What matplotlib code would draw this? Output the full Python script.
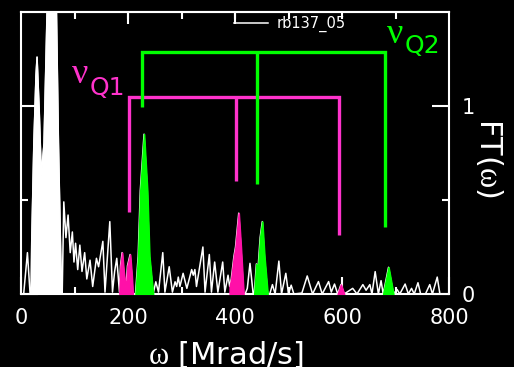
import numpy as np
import matplotlib
matplotlib.use("Agg")
import matplotlib.pyplot as plt
import matplotlib.transforms as mtransforms
from matplotlib.ticker import MultipleLocator

plt.rcParams['mathtext.fontset'] = 'custom'
plt.rcParams['mathtext.it'] = 'Liberation Serif'
plt.rcParams['mathtext.rm'] = 'Liberation Serif'
plt.rcParams['font.family'] = ['DejaVu Sans']

# ---------------- data ----------------
freq = [5, 12, 17, 19, 20, 24, 28, 30, 34, 38, 43, 49, 57, 66, 70, 75, 77,
        80, 84, 88, 92, 96, 99, 102, 106, 110, 114, 119, 123, 129, 134, 141, 145,
        153, 157, 166, 171, 175, 179, 184,
        186, 189, 192, 196, 199, 204, 207, 209,
        214, 219, 223, 230, 236, 240, 247,
        252, 257, 265, 269, 277, 283, 288, 291, 294, 297, 303, 310, 319, 322, 325,
        328, 340, 344, 352, 356, 362, 368, 377, 381, 387, 390,
        393, 398, 401, 407, 411, 416,
        419, 423, 428, 434,
        436, 440, 443, 447, 451, 455, 461,
        465, 470, 475, 482, 487, 495, 500, 505, 510, 525, 535, 545, 556, 563,
        575, 580, 586, 592,
        598, 604,
        620, 628, 639, 645, 652, 656, 662, 668, 673, 677,
        684, 687, 691, 696,
        703, 708, 718, 724, 730, 735, 742, 747, 756, 764, 769, 778, 783, 798]
amp = [0.0, 0.22, 0.0, 0.0, 0.27, 0.80, 1.16, 1.26, 0.98, 0.63, 0.80, 1.53, 2.80, 1.55, 0.80, 0.10, 0.0,
       0.49, 0.30, 0.42, 0.22, 0.33, 0.17, 0.27, 0.13, 0.26, 0.12, 0.22, 0.08, 0.18, 0.04, 0.19, 0.145,
       0.28, 0.01, 0.385, 0.01, 0.12, 0.19, 0.01,
       0.15, 0.22, 0.12, 0.02, 0.15, 0.21, 0.10, 0.0,
       0.0, 0.20, 0.55, 0.85, 0.55, 0.20, 0.0,
       0.065, 0.01, 0.22, 0.01, 0.145, 0.01, 0.065, 0.04, 0.09, 0.04, 0.11, 0.03, 0.13, 0.10, 0.13,
       0.04, 0.25, 0.01, 0.21, 0.01, 0.17, 0.01, 0.17, 0.01, 0.10, 0.04,
       0.08, 0.20, 0.25, 0.43, 0.25, 0.0,
       0.0, 0.03, 0.163, 0.0,
       0.0, 0.16, 0.13, 0.30, 0.385, 0.20, 0.0,
       0.0, 0.05, 0.0, 0.175, 0.0, 0.11, 0.0, 0.047, 0.0, 0.005, 0.096, 0.0, 0.066, 0.0,
       0.066, 0.01, 0.053, 0.0,
       0.05, 0.0,
       0.03, 0.0, 0.05, 0.02, 0.05, 0.0, 0.119, 0.0, 0.071, 0.0,
       0.10, 0.142, 0.08, 0.0,
       0.024, 0.0, 0.053, 0.0, 0.03, 0.0, 0.06, 0.0, 0.0, 0.05, 0.0, 0.09, 0.0, 0.0]

white_fill_range = (19, 77)
q1_ranges = [(184, 209), (390, 416), (592, 604)]
q2_ranges = [(214, 247), (436, 461), (677, 696)]

q1_legs = [202, 401, 594]
q1_top = 1.048
q1_ends = [0.438, 0.60, 0.314]
q2_legs = [227, 440.5, 680]
q2_top = 1.286
q2_ends = [0.996, 0.585, 0.358]

xticks = [0, 200, 400, 600, 800]
top_ticks = [100, 200, 300, 400, 500, 600, 700]
top_long_ticks = [200, 400]
yticks = [0, 1]
series_label = "rb137_05"

# ---------------- style ----------------
MAG = '#FF33CC'
MAG_FILL = '#FF10A8'
GRN = '#00FF00'
W, H = 514, 367
AX_H = 294 - 12

fig = plt.figure(figsize=(W / 100, H / 100), dpi=100, facecolor='black')
ax = fig.add_axes([21 / W, 1 - 294 / H, (449 - 21) / W, AX_H / H])
ax.set_facecolor('black')
ax.set_xlim(0, 800)
ax.set_ylim(0, 1.5)

f = np.array(freq, dtype=float)
a = np.array(amp, dtype=float)

ax.plot(f, a, color='white', lw=1.1, zorder=2, label=series_label)
m = (f >= white_fill_range[0]) & (f <= white_fill_range[1])
ax.fill_between(f, a, where=m, color='white', lw=1.0, zorder=2)
for lo, hi in q1_ranges:
    m = (f >= lo) & (f <= hi)
    ax.fill_between(f, a, where=m, facecolor=MAG_FILL, edgecolor=MAG_FILL, lw=1.2, zorder=3)
for lo, hi in q2_ranges:
    m = (f >= lo) & (f <= hi)
    ax.fill_between(f, a, where=m, facecolor=GRN, edgecolor=GRN, lw=1.2, zorder=3)

for legs, top, ends, col, z in [(q1_legs, q1_top, q1_ends, MAG, 4), (q2_legs, q2_top, q2_ends, GRN, 5)]:
    ax.plot([legs[0], legs[0], legs[-1], legs[-1]], [ends[0], top, top, ends[-1]],
            color=col, lw=2.4, solid_joinstyle='miter', solid_capstyle='butt', zorder=z)
    ax.plot([legs[1], legs[1]], [top, ends[1]], color=col, lw=2.4,
            solid_capstyle='butt', zorder=z)

# axes / ticks
for s in ax.spines.values():
    s.set_color('white')
    s.set_linewidth(1.5)
ax.set_axisbelow(True)
ax.set_xticks(xticks)
ax.xaxis.set_minor_locator(MultipleLocator(100))
ax.set_yticks(yticks)
ax.set_yticks([0.5], minor=True)
ax.tick_params(which='both', direction='in', colors='white', top=False, bottom=True,
               left=True, right=True, labelleft=False, labelright=True, labelbottom=True,
               labelsize=15, width=1.5)
ax.tick_params(which='major', length=12)
ax.tick_params(which='minor', length=5)
ax.tick_params(axis='x', pad=10)
ax.tick_params(axis='y', pad=9)

# top ticks (short) plus two long ones
sec = ax.secondary_xaxis('top')
sec.set_xticks(top_ticks)
sec.xaxis.set_minor_locator(plt.NullLocator())
sec.tick_params(which='major', direction='in', colors='white', labeltop=False,
                width=1.5, length=5)
sec.spines['top'].set_color('white')
sec.spines['top'].set_linewidth(1.5)
trans = mtransforms.blended_transform_factory(ax.transData, ax.transAxes)
for xt in top_long_ticks:
    ax.plot([xt, xt], [1, 1 - 12 / AX_H], color='white', lw=1.5, transform=trans,
            clip_on=False, solid_capstyle='butt', zorder=6)

leg = ax.legend(loc='center left', bbox_to_anchor=((234 - 21) / 428, (294 - 24) / AX_H),
                frameon=False, fontsize=10.5, handlelength=2.3, handletextpad=0.6,
                borderpad=0, borderaxespad=0, labelcolor='white')

# labels
fig.text(148 / W, 1 - 364 / H, r'$\omega$ [Mrad/s]', fontsize=22, color='white',
         ha='left', va='baseline')
fig.text(480 / W, 1 - 118 / H, r'FT($\omega$)', fontsize=22, color='white',
         rotation=270, rotation_mode='anchor', ha='left', va='baseline')

fig.text(72 / W, 1 - 83 / H, 'ν', family='Liberation Serif', fontsize=26, color=MAG,
         ha='left', va='baseline')
fig.text(90 / W, 1 - 95 / H, 'Q1', fontsize=18, color=MAG, ha='left', va='baseline')
fig.text(387 / W, 1 - 43 / H, 'ν', family='Liberation Serif', fontsize=26, color=GRN,
         ha='left', va='baseline')
fig.text(405 / W, 1 - 53 / H, 'Q2', fontsize=18, color=GRN, ha='left', va='baseline')

fig.savefig('out.png', dpi=100, facecolor='black')
